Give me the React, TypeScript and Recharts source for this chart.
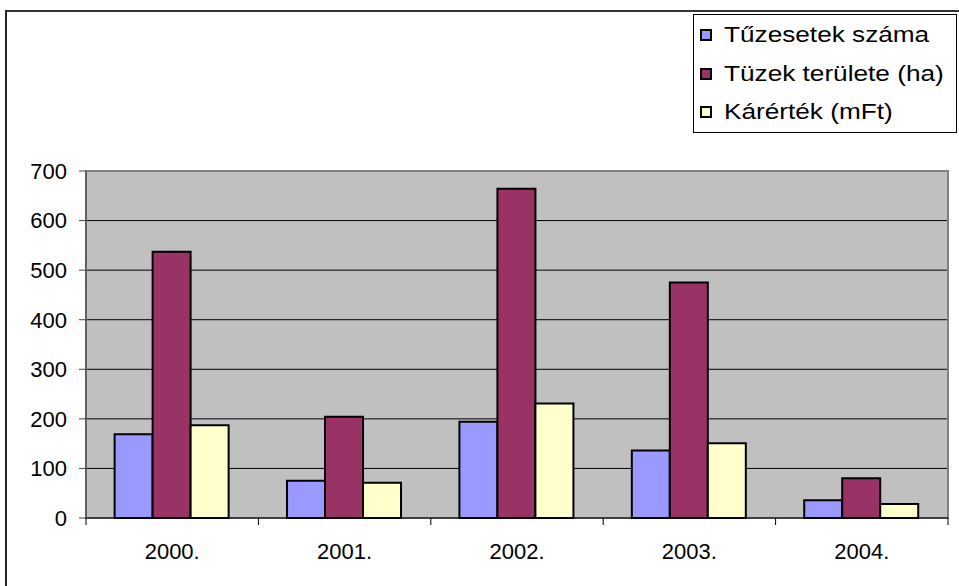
import React from 'react';
import {
  BarChart, Bar, XAxis, YAxis, CartesianGrid, Legend, ReferenceArea
} from 'recharts';

// years on the category axis
const years = ['2000.', '2001.', '2002.', '2003.', '2004.'];

// series values
const fireCount = [169, 75, 194, 136, 36];
const burntArea = [537, 204, 664, 475, 80];
const damage = [187, 71, 231, 151, 28];

const yTicks = [0, 100, 200, 300, 400, 500, 600, 700];

const SERIES = [
  { key: 'count', name: 'Tűzesetek száma', color: '#9999FF' },
  { key: 'area', name: 'Tüzek területe (ha)', color: '#993366' },
  { key: 'damage', name: 'Kárérték (mFt)', color: '#FFFFCC' },
];

const data = years.map((year, i) => ({
  year,
  count: fireCount[i],
  area: burntArea[i],
  damage: damage[i],
}));

const FONT = '"Liberation Sans", Arial, sans-serif';
const WIDTH = 959;
const HEIGHT = 586;
const MARGIN = { top: 171, right: 11, bottom: 38, left: 0 };
const Y_AXIS_WIDTH = 86;
const HALF_BAND = (WIDTH - MARGIN.left - MARGIN.right - Y_AXIS_WIDTH) / years.length / 2;

// category ticks: marks sit between the groups, labels under the middle
const YearTick = (props: any) => {
  const { x, y, payload, index } = props;
  return (
    <g>
      <line x1={x - HALF_BAND} y1={y} x2={x - HALF_BAND} y2={y + 7} stroke="#000" />
      {index === years.length - 1 && (
        <line x1={x + HALF_BAND} y1={y} x2={x + HALF_BAND} y2={y + 7} stroke="#000" />
      )}
      <text
        x={x}
        y={y + 33}
        textAnchor="middle"
        dominantBaseline="central"
        fontSize={22}
        fontFamily={FONT}
        fill="#000"
      >
        {payload.value}
      </text>
    </g>
  );
};

const LegendBox = () => (
  <div
    style={{
      width: '100%',
      height: '100%',
      border: '1px solid #000',
      boxSizing: 'border-box',
      background: '#fff',
      position: 'relative',
      fontFamily: FONT,
    }}
  >
    {SERIES.map((s, i) => (
      <div key={s.key} style={{ position: 'absolute', left: 0, top: 20 + i * 38.5, height: 0 }}>
        <div
          style={{
            position: 'absolute',
            left: 6,
            top: -6,
            width: 12,
            height: 12,
            boxSizing: 'border-box',
            border: '2px solid #000',
            background: s.color,
          }}
        />
        <div
          style={{
            position: 'absolute',
            left: 30,
            top: -13,
            fontSize: 22,
            lineHeight: '25px',
            whiteSpace: 'nowrap',
            color: '#000',
            transform: 'scaleX(1.19)',
            transformOrigin: 'left center',
          }}
        >
          {s.name}
        </div>
      </div>
    ))}
  </div>
);

export default function App() {
  return (
    <div style={{ position: 'absolute', left: 0, top: 0, width: WIDTH, height: HEIGHT, background: '#fff' }}>
      <div
        style={{
          position: 'absolute',
          left: 5,
          top: 10,
          right: 0,
          bottom: 0,
          borderLeft: '2px solid #222',
          borderTop: '2px solid #333',
        }}
      />
      <div style={{ position: 'absolute', left: 0, top: 0 }}>
        <BarChart
          width={WIDTH}
          height={HEIGHT}
          data={data}
          margin={MARGIN}
          barCategoryGap="16.6%"
          barGap={0}
        >
          <CartesianGrid vertical={false} stroke="#000" fill="#C0C0C0" fillOpacity={1} />
          <ReferenceArea y1={0} y2={700} fill="none" stroke="#808080" strokeWidth={2} />
          <XAxis
            dataKey="year"
            height={30}
            stroke="#000"
            tickSize={0}
            tickMargin={0}
            tick={<YearTick />}
            interval={0}
          />
          <YAxis
            width={Y_AXIS_WIDTH}
            domain={[0, 700]}
            ticks={yTicks}
            stroke="#444"
            tickSize={7}
            tickMargin={12}
            tick={{ fontSize: 22, fontFamily: FONT, fill: '#000' }}
            tickLine={{ stroke: '#444' }}
          />
          <Legend
            layout="vertical"
            align="center"
            verticalAlign="middle"
            wrapperStyle={{ left: 693, top: 14, width: 264, height: 119 }}
            content={() => <LegendBox />}
          />
          {SERIES.map((s) => (
            <Bar
              key={s.key}
              dataKey={s.key}
              name={s.name}
              fill={s.color}
              stroke="#000"
              strokeWidth={2}
              isAnimationActive={false}
            />
          ))}
        </BarChart>
      </div>
    </div>
  );
}
